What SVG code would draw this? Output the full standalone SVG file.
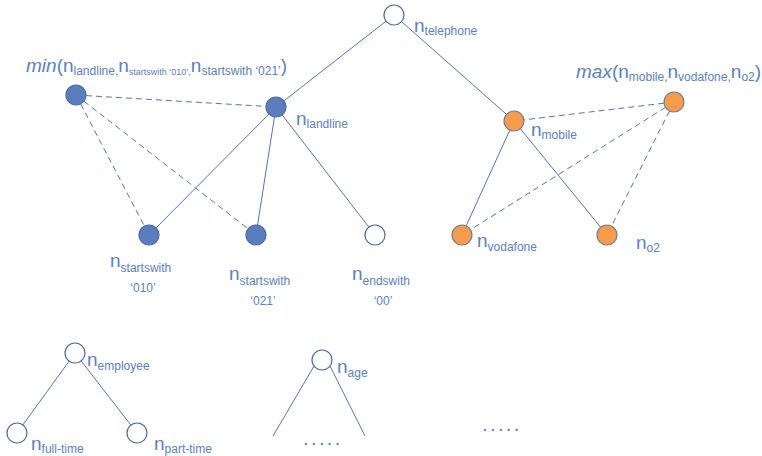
<svg xmlns="http://www.w3.org/2000/svg" width="762" height="456" viewBox="0 0 762 456">
<style>
.e{stroke:#4f76b8;stroke-width:1;fill:none}
.d{stroke:#4f76b8;stroke-width:1;fill:none;stroke-dasharray:6 4}
.w{fill:#ffffff;stroke:#4a6aa3;stroke-width:1.2}
.b{fill:#5a7ebd;stroke:#4a6aa3;stroke-width:1.2}
.o{fill:#f89c4c;stroke:#6f7c99;stroke-width:1.2}
text{font-family:"Liberation Sans",Arial,sans-serif;fill:#5c80c2;font-size:19px}
.s{font-size:12px}
.xs{font-size:9px}
.t{font-size:12px}
.i{font-style:italic}
</style>
<g id="connectors">
<line class="e" x1="394" y1="15" x2="276" y2="107"/>
<line class="e" x1="394" y1="15" x2="514" y2="121"/>
<line class="e" x1="276" y1="107" x2="149" y2="235"/>
<line class="e" x1="276" y1="107" x2="256" y2="235"/>
<line class="e" x1="276" y1="107" x2="375" y2="235"/>
<line class="e" x1="514" y1="121" x2="462" y2="235"/>
<line class="e" x1="514" y1="121" x2="607" y2="235"/>
<line class="d" x1="76" y1="95" x2="276" y2="107"/>
<line class="d" x1="76" y1="95" x2="149" y2="235"/>
<line class="d" x1="76" y1="95" x2="256" y2="235"/>
<line class="d" x1="674" y1="102" x2="514" y2="121"/>
<line class="d" x1="674" y1="102" x2="462" y2="235"/>
<line class="d" x1="674" y1="102" x2="607" y2="235"/>
<line class="e" x1="75" y1="353" x2="17" y2="433"/>
<line class="e" x1="75" y1="353" x2="137" y2="433"/>
<line class="e" x1="314" y1="366" x2="273" y2="436"/>
<line class="e" x1="330" y1="366" x2="365" y2="436"/>
</g>
<g id="n_telephone"><circle class="w" cx="394" cy="15" r="10"/><text x="414" y="32">n<tspan class="s" dy="3">telephone</tspan></text></g>
<g id="n_landline"><circle class="b" cx="276" cy="107" r="10"/><text x="296" y="125">n<tspan class="s" dy="3">landline</tspan></text></g>
<g id="min"><circle class="b" cx="76" cy="95" r="10"/><text x="26" y="72"><tspan class="i">min</tspan>(n<tspan class="s" dy="3">landline,</tspan><tspan dy="-3">n</tspan><tspan class="xs" dy="3">startswith ‘010’,</tspan><tspan dy="-3">n</tspan><tspan class="s" dy="3">startswith ‘021’</tspan><tspan dy="-3">)</tspan></text></g>
<g id="n_startswith_010"><circle class="b" cx="149" cy="235" r="10"/><text x="110" y="267">n<tspan class="s" dy="5">startswith</tspan></text><text class="t" x="143" y="292" text-anchor="middle">‘010’</text></g>
<g id="n_startswith_021"><circle class="b" cx="256" cy="235" r="10"/><text x="229" y="280">n<tspan class="s" dy="5">startswith</tspan></text><text class="t" x="263" y="305" text-anchor="middle">‘021’</text></g>
<g id="n_endswith_00"><circle class="w" cx="375" cy="235" r="10"/><text x="352" y="280">n<tspan class="s" dy="5">endswith</tspan></text><text class="t" x="383" y="305" text-anchor="middle">‘00’</text></g>
<g id="n_mobile"><circle class="o" cx="514" cy="121" r="10"/><text x="531" y="136">n<tspan class="s" dy="3">mobile</tspan></text></g>
<g id="max"><circle class="o" cx="674" cy="102" r="10"/><text x="576" y="78"><tspan class="i">max</tspan>(n<tspan class="s" dy="3">mobile,</tspan><tspan dy="-3">n</tspan><tspan class="s" dy="3">vodafone,</tspan><tspan dy="-3">n</tspan><tspan class="s" dy="3">o2</tspan><tspan dy="-3">)</tspan></text></g>
<g id="n_vodafone"><circle class="o" cx="462" cy="235" r="10"/><text x="477" y="247">n<tspan class="s" dy="4">vodafone</tspan></text></g>
<g id="n_o2"><circle class="o" cx="607" cy="235" r="10"/><text x="636" y="249">n<tspan class="s" dy="3">o2</tspan></text></g>
<g id="n_employee"><circle class="w" cx="75" cy="353" r="10"/><text x="87" y="366">n<tspan class="s" dy="4">employee</tspan></text></g>
<g id="n_full-time"><circle class="w" cx="17" cy="433" r="10"/><text x="31" y="450">n<tspan class="s" dy="3">full-time</tspan></text></g>
<g id="n_part-time"><circle class="w" cx="137" cy="433" r="10"/><text x="154" y="450">n<tspan class="s" dy="3">part-time</tspan></text></g>
<g id="n_age"><circle class="w" cx="322" cy="360" r="10"/><text x="337" y="373">n<tspan class="s" dy="4">age</tspan></text></g>
<text x="303" y="445" style="font-size:20px;letter-spacing:2.4px">.....</text>
<text x="482" y="431" style="font-size:20px;letter-spacing:2.4px">.....</text>
</svg>
